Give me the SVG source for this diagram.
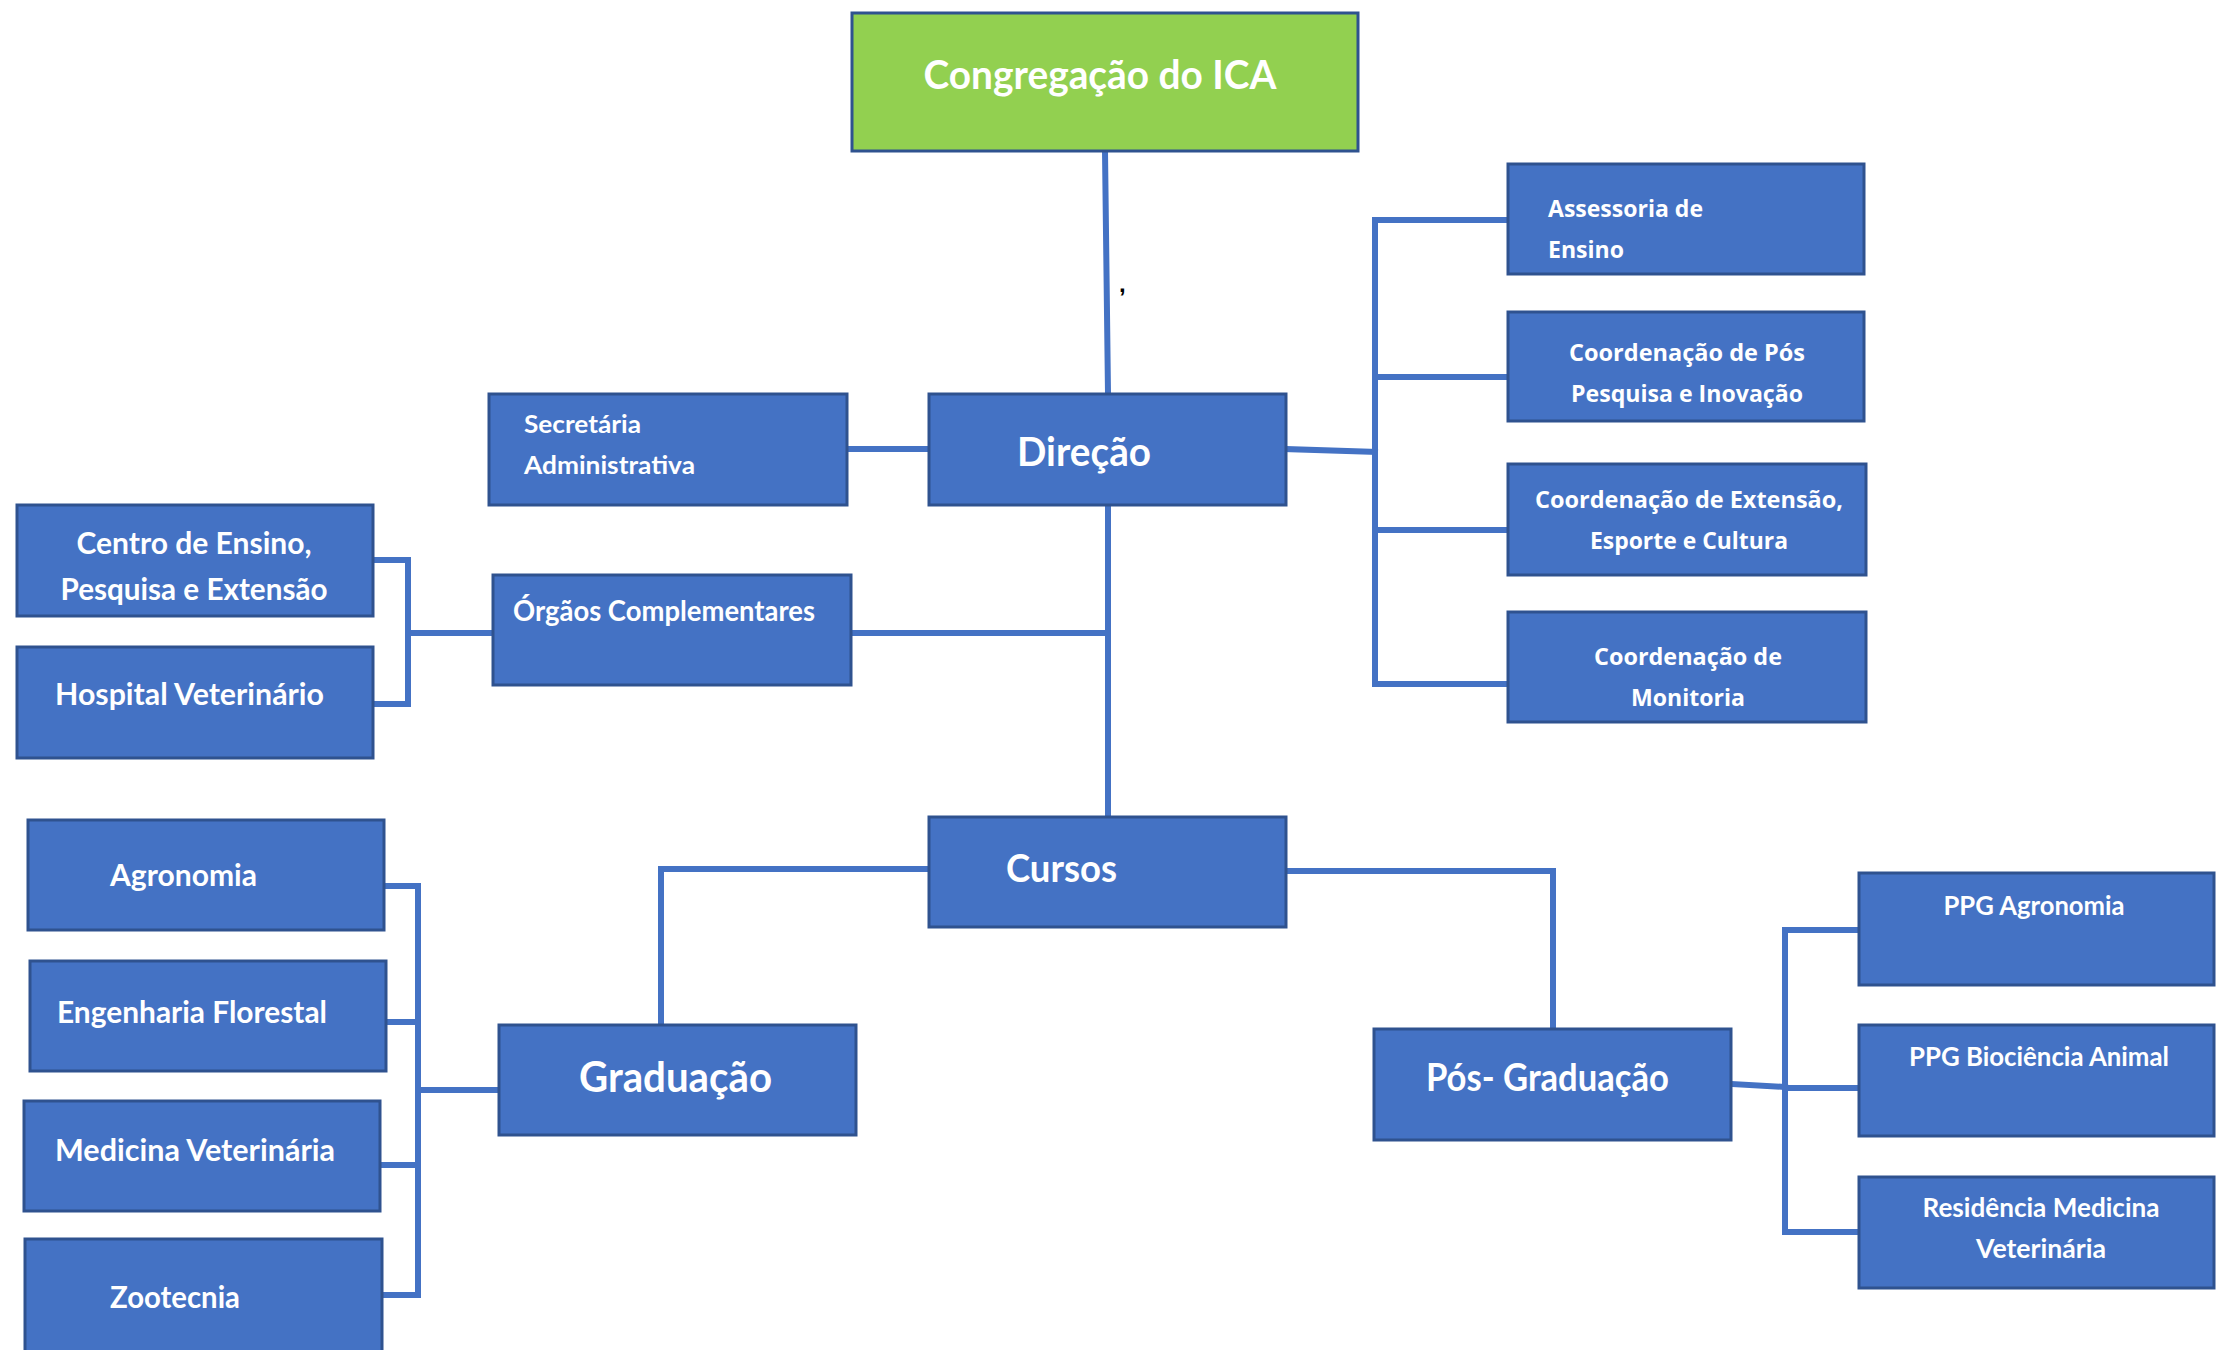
<svg xmlns="http://www.w3.org/2000/svg" width="2216" height="1350" viewBox="0 0 2216 1350">
<style>
.box{fill:#4472C4;stroke:#2F528F;stroke-width:3}
.green{fill:#92D050;stroke:#2F528F;stroke-width:3}
.t{fill:#fff;font-family:Lato,"Open Sans",sans-serif;font-weight:bold}
.o{fill:#fff;font-family:"Open Sans",Lato,sans-serif;font-weight:bold}
.c line,.c polyline{stroke:#4472C4;stroke-width:6;fill:none;stroke-linecap:square}
</style>
<rect width="2216" height="1350" fill="#fff"/>
<g class="c" id="connectors">
<line x1="1105" y1="151" x2="1108" y2="394"/>
<line x1="847" y1="449" x2="929" y2="449"/>
<line x1="1108" y1="505" x2="1108" y2="817"/>
<line x1="851" y1="633" x2="1108" y2="633"/>
<line x1="1286" y1="449" x2="1375" y2="452"/>
<polyline points="1508,220 1375,220 1375,684 1508,684"/>
<line x1="1375" y1="377" x2="1508" y2="377"/>
<line x1="1375" y1="530" x2="1508" y2="530"/>
<line x1="493" y1="633" x2="408" y2="633"/>
<polyline points="373,560 408,560 408,704 373,704"/>
<polyline points="929,869 661,869 661,1025"/>
<polyline points="1286,871 1553,871 1553,1029"/>
<polyline points="384,886 418,886 418,1295 382,1295"/>
<line x1="386" y1="1022" x2="418" y2="1022"/>
<line x1="380" y1="1165" x2="418" y2="1165"/>
<line x1="499" y1="1090" x2="418" y2="1090"/>
<line x1="1731" y1="1084" x2="1785" y2="1087"/>
<polyline points="1859,930 1785,930 1785,1232 1859,1232"/>
<line x1="1785" y1="1088" x2="1859" y2="1088"/>
</g>
<text x="1119" y="292" font-family="Liberation Sans,sans-serif" font-weight="bold" font-size="24" fill="#000">,</text>
<g id="congregacao"><rect class="green" x="852" y="13" width="506" height="138"/><text class="t" x="1100" y="89" font-size="40" text-anchor="middle" textLength="353" lengthAdjust="spacingAndGlyphs">Congregação do ICA</text></g>
<g id="direcao"><rect class="box" x="929" y="394" width="357" height="111"/><text class="t" x="1084" y="466" font-size="40" text-anchor="middle" textLength="134" lengthAdjust="spacingAndGlyphs">Direção</text></g>
<g id="secretaria"><rect class="box" x="489" y="394" width="358" height="111"/><text class="t" x="524" y="433" font-size="24" textLength="117" lengthAdjust="spacingAndGlyphs">Secretária</text><text class="t" x="524" y="474" font-size="24" textLength="171" lengthAdjust="spacingAndGlyphs">Administrativa</text></g>
<g id="orgaos"><rect class="box" x="493" y="575" width="358" height="110"/><text class="t" x="513" y="621" font-size="28" textLength="302" lengthAdjust="spacingAndGlyphs">Órgãos Complementares</text></g>
<g id="centro"><rect class="box" x="17" y="505" width="356" height="111"/><text class="t" x="194" y="554" font-size="30" text-anchor="middle" textLength="235" lengthAdjust="spacingAndGlyphs">Centro de Ensino,</text><text class="t" x="194" y="600" font-size="30" text-anchor="middle" textLength="267" lengthAdjust="spacingAndGlyphs">Pesquisa e Extensão</text></g>
<g id="hospital"><rect class="box" x="17" y="647" width="356" height="111"/><text class="t" x="55" y="705" font-size="30" textLength="269" lengthAdjust="spacingAndGlyphs">Hospital Veterinário</text></g>
<g id="agronomia"><rect class="box" x="28" y="820" width="356" height="110"/><text class="t" x="110" y="886" font-size="30" textLength="147" lengthAdjust="spacingAndGlyphs">Agronomia</text></g>
<g id="engenharia"><rect class="box" x="30" y="961" width="356" height="110"/><text class="t" x="57" y="1023" font-size="30" textLength="270" lengthAdjust="spacingAndGlyphs">Engenharia Florestal</text></g>
<g id="medicina"><rect class="box" x="24" y="1101" width="356" height="110"/><text class="t" x="55" y="1161" font-size="30" textLength="280" lengthAdjust="spacingAndGlyphs">Medicina Veterinária</text></g>
<g id="zootecnia"><rect class="box" x="25" y="1239" width="357" height="114"/><text class="t" x="110" y="1308" font-size="30" textLength="130" lengthAdjust="spacingAndGlyphs">Zootecnia</text></g>
<g id="graduacao"><rect class="box" x="499" y="1025" width="357" height="110"/><text class="t" x="579" y="1092" font-size="42" textLength="193" lengthAdjust="spacingAndGlyphs">Graduação</text></g>
<g id="cursos"><rect class="box" x="929" y="817" width="357" height="110"/><text class="t" x="1006" y="882" font-size="38" textLength="111" lengthAdjust="spacingAndGlyphs">Cursos</text></g>
<g id="posgraduacao"><rect class="box" x="1374" y="1029" width="357" height="111"/><text class="t" x="1426" y="1091" font-size="38" textLength="243" lengthAdjust="spacingAndGlyphs">Pós- Graduação</text></g>
<g id="assessoria"><rect class="box" x="1508" y="164" width="356" height="110"/><text class="o" x="1548" y="217" font-size="24" textLength="155" lengthAdjust="spacingAndGlyphs">Assessoria de</text><text class="o" x="1548" y="258" font-size="24" textLength="76" lengthAdjust="spacingAndGlyphs">Ensino</text></g>
<g id="coord-pos"><rect class="box" x="1508" y="312" width="356" height="109"/><text class="o" x="1687" y="361" font-size="24" text-anchor="middle" textLength="236" lengthAdjust="spacingAndGlyphs">Coordenação de Pós</text><text class="o" x="1687" y="402" font-size="24" text-anchor="middle" textLength="232" lengthAdjust="spacingAndGlyphs">Pesquisa e Inovação</text></g>
<g id="coord-ext"><rect class="box" x="1508" y="464" width="358" height="111"/><text class="o" x="1689" y="508" font-size="24" text-anchor="middle" textLength="308" lengthAdjust="spacingAndGlyphs">Coordenação de Extensão,</text><text class="o" x="1689" y="549" font-size="24" text-anchor="middle" textLength="198" lengthAdjust="spacingAndGlyphs">Esporte e Cultura</text></g>
<g id="coord-mon"><rect class="box" x="1508" y="612" width="358" height="110"/><text class="o" x="1688" y="665" font-size="24" text-anchor="middle" textLength="188" lengthAdjust="spacingAndGlyphs">Coordenação de</text><text class="o" x="1688" y="706" font-size="24" text-anchor="middle" textLength="114" lengthAdjust="spacingAndGlyphs">Monitoria</text></g>
<g id="ppg-agro"><rect class="box" x="1859" y="873" width="355" height="112"/><text class="t" x="2034" y="915" font-size="26" text-anchor="middle" textLength="181" lengthAdjust="spacingAndGlyphs">PPG Agronomia</text></g>
<g id="ppg-bio"><rect class="box" x="1859" y="1025" width="355" height="111"/><text class="t" x="2039" y="1066" font-size="26" text-anchor="middle" textLength="260" lengthAdjust="spacingAndGlyphs">PPG Biociência Animal</text></g>
<g id="residencia"><rect class="box" x="1859" y="1177" width="355" height="111"/><text class="t" x="2041" y="1217" font-size="26" text-anchor="middle" textLength="237" lengthAdjust="spacingAndGlyphs">Residência Medicina</text><text class="t" x="2041" y="1258" font-size="26" text-anchor="middle" textLength="130" lengthAdjust="spacingAndGlyphs">Veterinária</text></g>
</svg>
